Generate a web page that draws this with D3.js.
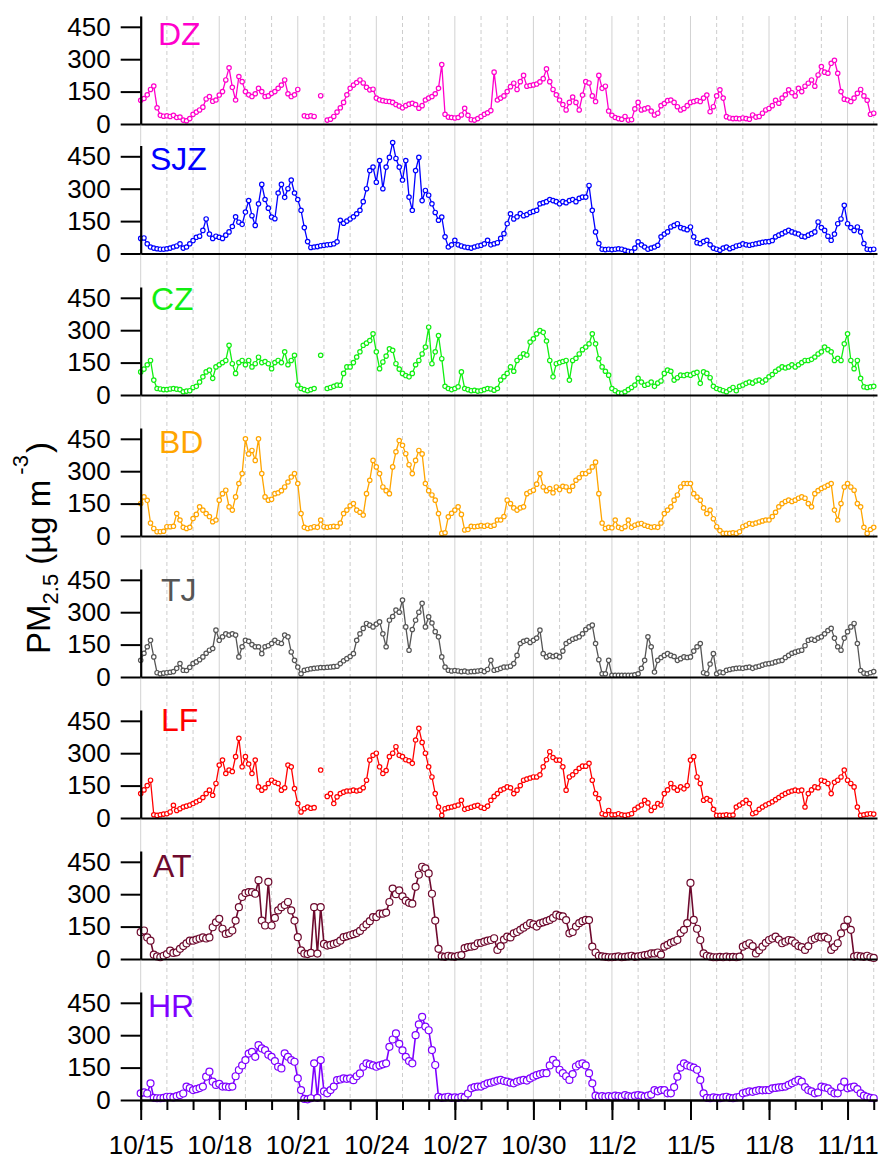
<!DOCTYPE html>
<html>
<head>
<meta charset="utf-8">
<script src="https://cdn.jsdelivr.net/npm/d3@7"></script>
<style>
  body { margin: 0; background: #fff; }
  svg { display: block; }
  text { font-family: "Liberation Sans", Arial, Helvetica, sans-serif; }
</style>
</head>
<body>
<svg id="chart" width="883" height="1162"></svg>
<script>
// PM2.5 (µg m-3) at eight sites, one value every 3 hours from 10/15 00:00 to 11/12 00:00
const stations = ["DZ", "SJZ", "CZ", "BD", "TJ", "LF", "AT", "HR"];
const stationColors = ["#ff00cc", "#0000ff", "#11ee11", "#ffa500", "#555555", "#ff0000", "#6e0a2e", "#7f00ff"];

const dz = [
  110,118,135,160,176,75,40,36, 38,35,40,30,32,18,15,25,
  45,55,65,78,116,127,105,111, 134,150,204,260,170,111,220,196,
  150,135,127,140,165,150,127,130, 142,150,165,180,204,140,127,135,
  160,null,38,35,38,35,null,131, null,18,22,35,55,75,100,135,
  165,180,192,204,190,170,158,161, 120,112,108,105,104,100,90,83,
  75,85,92,96,90,73,85,111, 120,127,140,165,275,45,32,30,
  28,30,42,73,40,20,18,25, 35,45,52,62,240,111,120,130,
  150,173,189,160,196,225,175,178, 181,185,195,210,255,196,160,135,
  111,90,65,100,125,100,65,134, 196,190,130,104,225,165,175,60,
  40,30,25,22,35,18,20,70, 100,65,70,75,60,42,50,85,
  95,108,111,100,80,65,72,85, 100,104,108,104,120,134,57,80,
  130,158,120,34,28,25,26,24, 28,25,22,42,32,35,50,65,
  72,85,110,96,120,135,158,145, 130,165,150,175,189,204,175,227,
  266,240,235,281,295,235,150,115, 111,104,120,142,160,130,110,45,
  50
];
const sjz = [
  70,72,45,30,25,22,20,20, 22,25,30,35,45,25,30,45,
  60,75,80,107,160,90,70,80, 75,70,85,100,125,170,145,135,
  192,245,175,130,230,320,250,210, 169,161,280,320,260,300,340,280,
  250,200,120,55,28,30,32,36, 38,40,42,45,54,154,140,150,
  160,170,184,200,240,300,384,400, 330,430,300,400,445,514,440,400,
  340,430,261,200,384,445,245,292, 270,230,190,154,169,77,30,40,
  61,40,35,30,28,25,30,35, 38,45,61,40,45,50,70,92,
  138,184,160,170,185,175,180,190, 195,200,230,235,240,250,245,240,
  230,240,235,245,250,240,255,261, 261,315,200,100,46,20,18,20,
  18,20,22,20,15,10,8,25, 54,40,30,20,25,30,38,77,
  90,100,123,130,138,120,115,110, 123,77,50,46,55,61,40,25,
  20,15,25,30,22,28,35,38, 45,40,38,42,45,48,52,54,
  55,60,77,85,92,100,107,100, 95,90,80,77,85,92,100,146,
  120,107,80,61,90,138,160,223, 138,120,107,123,100,46,20,18,
  20
];
const cz = [
  107,120,140,160,69,30,28,25, 25,28,30,27,25,15,18,20,
  35,40,60,84,107,115,77,130, 140,150,160,230,145,100,150,160,
  140,160,130,145,175,150,155,145, 122,150,160,150,200,140,160,184,
  46,30,25,20,25,30,null,184, null,30,35,40,46,45,100,130,
  130,150,176,200,230,240,252,283, 200,122,153,180,214,207,145,120,
  100,90,84,100,140,160,190,222, 314,145,200,275,168,40,30,25,
  30,38,107,30,25,20,22,18, 20,25,30,28,22,30,69,85,
  100,130,110,160,175,191,185,245, 260,283,298,290,250,160,84,145,
  150,155,160,69,160,170,190,210, 222,237,283,237,168,130,110,92,
  30,20,10,8,15,25,35,46, 77,60,45,50,60,40,55,65,
  100,115,110,69,80,92,90,95, 92,100,105,54,107,100,80,40,
  30,25,20,15,25,35,20,40, 46,54,60,55,65,69,60,70,
  84,95,110,120,130,125,130,140, 130,140,150,160,160,165,176,190,
  200,222,210,200,160,170,160,237, 283,160,122,160,77,38,35,38,
  40
];
const bd = [
  150,181,165,60,35,20,20,22, 43,43,45,104,74,40,35,40,
  81,100,135,120,104,90,66,74, 166,196,212,135,120,181,243,289,
  450,380,396,350,450,289,181,166, 170,196,200,210,227,250,273,289,
  243,104,40,35,38,43,40,74, 43,40,43,45,43,60,104,120,
  140,150,120,110,97,196,258,350, 320,289,227,210,196,320,390,442,
  420,381,330,289,350,396,380,243, 210,190,166,104,12,15,89,105,
  120,135,100,28,30,45,43,45, 48,45,50,45,50,74,74,90,
  166,150,130,120,130,135,196,205, 212,240,289,227,210,220,200,227,
  215,230,227,210,230,258,270,289, 289,300,320,342,196,60,35,40,
  38,74,40,35,43,74,40,50, 55,58,50,45,40,43,40,60,
  104,120,135,166,190,227,243,243, 243,196,180,166,130,104,120,80,
  43,25,12,12,12,15,12,20, 43,50,58,55,60,65,70,74,
  74,90,110,135,150,160,166,160, 166,175,181,175,150,135,196,210,
  220,227,235,243,120,74,150,227, 243,227,212,150,135,40,12,30,
  40
];
const tj = [
  77,110,140,170,93,20,15,18, 20,22,25,40,62,31,30,45,
  62,70,80,93,110,124,132,217, 170,186,200,194,200,194,93,140,
  170,165,150,140,140,108,140,145, 155,170,160,155,194,186,116,77,
  46,15,31,35,38,40,42,44, 44,45,46,48,50,62,75,85,
  95,108,170,200,225,248,240,232, 245,255,200,140,263,280,310,300,
  356,232,124,220,263,300,341,232, 279,250,210,186,93,46,31,28,
  30,28,25,27,23,25,26,28, 30,25,35,77,31,35,40,46,
  46,50,62,100,155,165,170,160, 170,180,217,108,93,100,95,100,
  93,120,155,165,175,180,186,200, 220,232,240,155,80,15,15,77,
  8,8,8,8,8,8,8,10, 15,40,77,186,140,23,77,90,
  100,108,100,95,77,85,93,90, 93,120,140,155,20,15,60,108,
  15,23,20,31,35,38,40,42, 40,44,46,40,46,50,55,60,
  62,65,70,74,77,90,100,110, 115,120,124,145,170,175,170,180,
  186,200,215,225,180,140,124,180, 210,232,248,155,30,18,15,20,
  25
];
const lf = [
  113,130,150,175,15,12,15,18, 20,28,59,35,43,51,55,60,
  67,75,82,95,113,129,105,160, 245,268,206,222,215,284,369,237,
  284,250,206,268,144,129,140,160, 175,165,160,129,140,245,237,136,
  67,28,43,51,45,48,null,222, null,100,113,67,98,113,120,125,
  125,129,125,129,140,175,268,290, 300,237,206,220,284,300,330,290,
  284,270,265,253,361,415,350,300, 237,190,113,51,12,43,48,51,
  55,60,82,40,45,50,55,59, 50,45,55,82,100,113,129,135,
  144,140,113,129,150,175,180,185, 190,190,200,237,270,307,280,268,
  268,237,129,190,200,215,230,240, 240,253,175,113,90,20,15,35,
  15,15,20,15,12,15,20,40, 51,60,82,70,35,50,67,60,
  113,130,160,140,129,144,135,150, 268,284,190,160,82,90,82,40,
  12,12,12,15,12,14,51,60, 70,82,67,20,25,40,51,60,
  67,75,85,95,105,113,120,125, 129,125,129,51,113,130,144,140,
  175,170,160,113,165,175,190,222, 175,160,144,51,12,15,18,20,
  18
];
const at = [
  124,132,100,85,20,12,8,15, 23,39,28,31,47,60,72,85,
  85,90,95,100,95,100,147,170, 186,140,116,120,132,178,240,287,
  305,310,310,302,365,178,155,357, 155,190,225,240,250,264,225,178,
  101,40,25,23,28,240,25,240, 70,62,65,70,75,85,101,105,
  110,115,120,130,147,160,175,194, 194,210,210,215,264,326,300,318,
  290,270,260,256,334,390,427,420, 396,302,178,47,12,10,15,12,
  10,15,18,50,55,57,60,73, 75,80,85,88,96,42,60,90,
  104,100,119,125,135,145,155,166, 160,150,165,170,175,181,190,205,
  200,197,180,119,125,150,166,175, 181,180,57,30,15,12,10,8,
  8,10,12,8,10,12,15,10, 12,15,18,20,26,26,30,20,
  57,65,75,80,88,120,135,166, 352,181,140,88,26,15,11,8,
  8,10,8,11,9,10,8,11, 57,65,73,60,26,40,57,75,
  88,95,104,90,73,80,88,85, 73,60,55,42,60,88,95,104,
  100,104,95,42,55,73,119,150, 181,135,11,15,12,10,15,8,
  5
];
const hr = [
  31,35,30,77,10,8,8,10, 15,15,12,18,23,30,62,55,
  46,50,55,62,108,131,85,70, 75,62,62,60,62,110,139,160,
  185,215,223,200,254,239,231,210, 200,180,154,146,216,200,185,177,
  100,46,5,3,8,170,10,185, 40,31,46,62,92,95,100,98,
  100,92,110,123,154,170,165,160, 154,160,165,170,246,280,308,260,
  230,200,180,170,300,350,385,340, 323,231,162,15,10,12,15,10,
  12,10,15,12,30,54,60,62, 62,70,77,80,85,90,93,88,
  85,80,77,85,90,93,90,100, 108,115,120,124,124,160,186,170,
  140,124,110,93,120,155,165,170, 160,124,77,20,15,18,15,18,
  15,20,18,15,23,18,15,20, 23,20,15,20,25,46,40,46,
  46,31,31,60,108,150,170,160, 155,150,140,93,31,10,8,12,
  10,8,12,15,10,8,12,15, 31,35,40,38,42,46,45,46,
  46,54,56,58,60,62,70,77, 85,93,85,60,46,40,31,35,
  62,58,54,40,31,31,60,85, 54,58,62,50,31,20,15,10,
  8
];
const series = [dz, sjz, cz, bd, tj, lf, at, hr];

const dateTicks = ["10/15", "10/18", "10/21", "10/24", "10/27", "10/30", "11/2", "11/5", "11/8", "11/11"];
const yTickValues = [0, 150, 300, 450];
const seriesStart = Date.UTC(2014, 9, 15);
const stepHours = 3;

// ---- layout ----
const svg = d3.select("#chart");
const panelBase = [124, 253.5, 395, 536, 677, 818, 959, 1100];
const panelHeight = 108;            // pixels spanned by 0..500
const labelPos = [[158, 79], [150, 84], [151, 85], [159, 83], [161, 76], [161, 87], [153, 82], [148, 83]];
const markerR = [2.2, 2.2, 2.2, 2.2, 2.2, 2.2, 3.5, 3.5];
const lineW = [1.3, 1.3, 1.3, 1.3, 1.3, 1.3, 1.6, 1.6];

const x = d3.scaleUtc()
  .domain([new Date(seriesStart), new Date(Date.UTC(2014, 10, 12, 3))])
  .range([140.7, 877]);

const days = d3.utcDay.range(new Date(seriesStart), new Date(Date.UTC(2014, 10, 12, 1)));
const tickDates = dateTicks.map(s => {
  const [m, d] = s.split("/").map(Number);
  return new Date(Date.UTC(2014, m - 1, d));
});

// daily grid: solid every third day, dashed otherwise
svg.append("g").selectAll("line").data(days).join("line")
  .attr("x1", d => x(d)).attr("x2", d => x(d))
  .attr("y1", 16).attr("y2", panelBase[panelBase.length - 1])
  .attr("stroke", (d, i) => i % 3 === 0 ? "#d2d2d2" : "#cdcdcd")
  .attr("stroke-width", 1)
  .attr("stroke-dasharray", (d, i) => i % 3 === 0 ? null : "4,3");

function styleAxis(g) {
  g.select(".domain").attr("stroke", "#000").attr("stroke-width", 2.2);
  g.selectAll(".tick line").attr("stroke", "#000").attr("stroke-width", 2);
  g.selectAll(".tick text").attr("fill", "#000")
    .style("font-size", "26px")
    .style("font-family", "'Liberation Sans', Arial, sans-serif");
}

stations.forEach((name, k) => {
  const base = panelBase[k];
  const y = d3.scaleLinear().domain([0, 500]).range([base, base - panelHeight]);
  const g = svg.append("g").attr("class", "panel");
  const pts = series[k].map((v, i) => ({ t: new Date(seriesStart + i * stepHours * 3600e3), v }));

  // series line and open markers
  const line = d3.line().defined(p => p.v != null).x(p => x(p.t)).y(p => y(p.v));
  g.append("path").datum(pts)
    .attr("d", line)
    .attr("fill", "none")
    .attr("stroke", stationColors[k])
    .attr("stroke-width", lineW[k]);
  g.append("g").selectAll("circle").data(pts.filter(p => p.v != null)).join("circle")
    .attr("cx", p => x(p.t)).attr("cy", p => y(p.v))
    .attr("r", markerR[k])
    .attr("fill", "#fff")
    .attr("stroke", stationColors[k])
    .attr("stroke-width", 1.2);

  // axes
  g.append("g").attr("transform", `translate(${x.range()[0]},0)`)
    .call(d3.axisLeft(y).tickValues(yTickValues).tickSize(20).tickSizeOuter(0).tickPadding(10))
    .call(styleAxis);

  if (k < stations.length - 1) {
    g.append("g").attr("transform", `translate(0,${base})`)
      .call(d3.axisBottom(x).tickValues([]).tickSizeOuter(0))
      .call(styleAxis);
  } else {
    g.append("g").attr("transform", `translate(0,${base})`)
      .call(d3.axisBottom(x).tickValues(days).tickSize(10).tickFormat("").tickSizeOuter(0))
      .call(styleAxis);
    g.append("g").attr("transform", `translate(0,${base})`)
      .call(d3.axisBottom(x).tickValues(tickDates).tickFormat((d, i) => dateTicks[i])
        .tickSize(20).tickPadding(16).tickSizeOuter(0))
      .call(styleAxis);
  }

  // station name
  g.append("text")
    .attr("x", labelPos[k][0]).attr("y", base - labelPos[k][1])
    .attr("fill", stationColors[k])
    .style("font-size", "32px")
    .text(name);
});

// y-axis title with sub/superscripts
const title = svg.append("text")
  .attr("transform", "translate(50,548) rotate(-90)")
  .attr("text-anchor", "middle")
  .attr("fill", "#000")
  .style("font-size", "33px");
title.append("tspan").text("PM");
title.append("tspan").attr("dy", 8).style("font-size", "22px").text("2.5");
title.append("tspan").attr("dy", -8).text(" (µg m");
title.append("tspan").attr("dy", -22).attr("dx", 5).style("font-size", "22px").text("-3");
title.append("tspan").attr("dy", 22).attr("dx", 2).text(")");
</script>
</body>
</html>
